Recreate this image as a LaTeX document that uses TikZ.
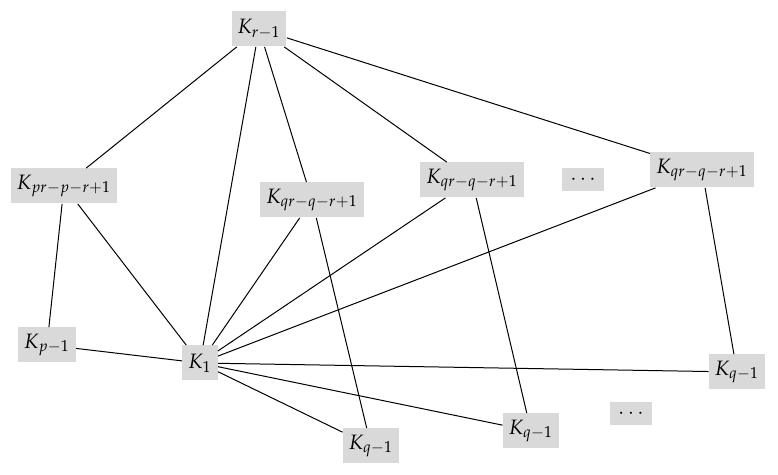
\documentclass[tikz,border=0pt]{standalone}
\usepackage{mathpazo}
\begin{document}
\begin{tikzpicture}[x=0.5pt,y=-0.5pt,
  kbox/.style={fill=black!15,inner xsep=3pt,inner ysep=2pt,minimum height=17.5pt,font=\fontsize{10.4}{12}\selectfont},
  dbox/.style={fill=black!15,minimum width=21pt,minimum height=11.5pt,inner sep=0pt},
  conn/.style={line width=0.5pt}]
\useasboundingbox (0,0) rectangle (778,475);
\node[kbox] (top) at (259,29) {$K_{r-1}$};
\node[kbox] (a) at (64,186) {$K_{pr-p-r+1}$};
\node[kbox] (b) at (312,200) {$K_{qr-q-r+1}$};
\node[kbox] (c) at (472,180) {$K_{qr-q-r+1}$};
\node[dbox] (d1) at (583,180) {$\cdots$};
\node[kbox] (e) at (702,170) {$K_{qr-q-r+1}$};
\node[kbox] (p) at (47,345) {$K_{p-1}$};
\node[kbox] (one) at (200,363) {$K_1$};
\node[kbox] (q1) at (371,446) {$K_{q-1}$};
\node[kbox] (q2) at (531,431) {$K_{q-1}$};
\node[kbox] (q3) at (737,372) {$K_{q-1}$};
\node[dbox] (d2) at (631,414) {$\cdots$};
\foreach \n in {a,one,b,c,e} \draw[conn] (top) -- (\n);
\draw[conn] (a) -- (p);
\draw[conn] (a) -- (one);
\draw[conn] (b) -- (one);
\draw[conn] (b) -- (q1);
\draw[conn] (c) -- (one);
\draw[conn] (c) -- (q2);
\draw[conn] (e) -- (one);
\draw[conn] (e) -- (q3);
\draw[conn] (one) -- (p);
\draw[conn] (one) -- (q1);
\draw[conn] (one) -- (q2);
\draw[conn] (one) -- (q3);
\end{tikzpicture}
\end{document}
